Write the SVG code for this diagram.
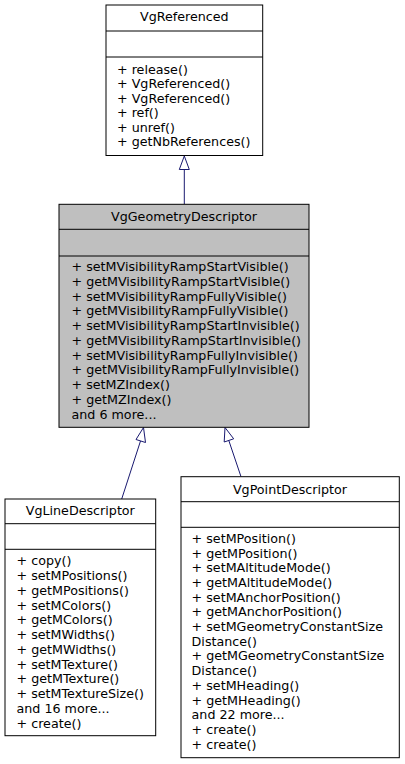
<svg xmlns="http://www.w3.org/2000/svg" width="405" height="764" viewBox="0 0 405 764">
<style>
.box{fill:#ffffff;stroke:#000000;stroke-width:1}
.gray{fill:#bfbfbf;stroke:#000000;stroke-width:1}
.sep{stroke:#000000;stroke-width:1}
text{font-family:"DejaVu Sans","Liberation Sans",sans-serif;font-size:12.7px;fill:#000000}
.t{text-anchor:middle}
.edge{stroke:#191970;stroke-width:1;fill:none}
.head{stroke:#191970;stroke-width:1;fill:#ffffff}
</style>
<rect width="405" height="764" fill="#ffffff"/>
<g id="connectors">
<line class="edge" x1="184.3" y1="169.5" x2="184.3" y2="204"/>
<polygon class="head" points="184.3,156 179.3,169.5 189.3,169.5"/>
<line class="edge" x1="140.5" y1="441" x2="121.7" y2="499"/>
<polygon class="head" points="143.5,427.5 136,439.5 145.5,442.5"/>
<line class="edge" x1="228.8" y1="440.5" x2="241" y2="476.7"/>
<polygon class="head" points="225,427.5 224.2,442 233.7,438.8"/>
</g>
<g id="VgReferenced">
<rect class="box" x="106" y="5" width="156.7" height="150.5"/>
<line class="sep" x1="106" y1="31" x2="262.7" y2="31"/>
<line class="sep" x1="106" y1="57" x2="262.7" y2="57"/>
<text class="t" x="184.3" y="21.2">VgReferenced</text>
<text x="117" y="73.5">+ release()</text>
<text x="117" y="88">+ VgReferenced()</text>
<text x="117" y="102.5">+ VgReferenced()</text>
<text x="117" y="117">+ ref()</text>
<text x="117" y="131.5">+ unref()</text>
<text x="117" y="146">+ getNbReferences()</text>
</g>
<g id="VgGeometryDescriptor">
<rect class="gray" x="59" y="204.3" width="250" height="223"/>
<line class="sep" x1="59" y1="229.3" x2="309" y2="229.3"/>
<line class="sep" x1="59" y1="256" x2="309" y2="256"/>
<text class="t" x="184" y="221">VgGeometryDescriptor</text>
<text x="71.5" y="271.2">+ setMVisibilityRampStartVisible()</text>
<text x="71.5" y="285.95">+ getMVisibilityRampStartVisible()</text>
<text x="71.5" y="300.7">+ setMVisibilityRampFullyVisible()</text>
<text x="71.5" y="315.45">+ getMVisibilityRampFullyVisible()</text>
<text x="71.5" y="330.2">+ setMVisibilityRampStartInvisible()</text>
<text x="71.5" y="344.95">+ getMVisibilityRampStartInvisible()</text>
<text x="71.5" y="359.7">+ setMVisibilityRampFullyInvisible()</text>
<text x="71.5" y="374.45">+ getMVisibilityRampFullyInvisible()</text>
<text x="71.5" y="389.2">+ setMZIndex()</text>
<text x="71.5" y="403.95">+ getMZIndex()</text>
<text x="71.5" y="418.7">and 6 more...</text>
</g>
<g id="VgLineDescriptor">
<rect class="box" x="5" y="499" width="150.7" height="236.7"/>
<line class="sep" x1="5" y1="523.7" x2="155.7" y2="523.7"/>
<line class="sep" x1="5" y1="549.3" x2="155.7" y2="549.3"/>
<text class="t" x="80.3" y="515">VgLineDescriptor</text>
<text x="16.5" y="565.2">+ copy()</text>
<text x="16.5" y="579.98">+ setMPositions()</text>
<text x="16.5" y="594.76">+ getMPositions()</text>
<text x="16.5" y="609.54">+ setMColors()</text>
<text x="16.5" y="624.32">+ getMColors()</text>
<text x="16.5" y="639.1">+ setMWidths()</text>
<text x="16.5" y="653.88">+ getMWidths()</text>
<text x="16.5" y="668.66">+ setMTexture()</text>
<text x="16.5" y="683.44">+ getMTexture()</text>
<text x="16.5" y="698.22">+ setMTextureSize()</text>
<text x="16.5" y="713">and 16 more...</text>
<text x="16.5" y="727.78">+ create()</text>
</g>
<g id="VgPointDescriptor">
<rect class="box" x="181" y="476.7" width="218.3" height="281"/>
<line class="sep" x1="181" y1="501.7" x2="399.3" y2="501.7"/>
<line class="sep" x1="181" y1="527.3" x2="399.3" y2="527.3"/>
<text class="t" x="290" y="493.8">VgPointDescriptor</text>
<text x="191.6" y="542.8">+ setMPosition()</text>
<text x="191.6" y="557.5">+ getMPosition()</text>
<text x="191.6" y="572.2">+ setMAltitudeMode()</text>
<text x="191.6" y="586.9">+ getMAltitudeMode()</text>
<text x="191.6" y="601.6">+ setMAnchorPosition()</text>
<text x="191.6" y="616.3">+ getMAnchorPosition()</text>
<text x="191.6" y="631">+ setMGeometryConstantSize</text>
<text x="191.6" y="645.7">Distance()</text>
<text x="191.6" y="660.4">+ getMGeometryConstantSize</text>
<text x="191.6" y="675.1">Distance()</text>
<text x="191.6" y="689.8">+ setMHeading()</text>
<text x="191.6" y="704.5">+ getMHeading()</text>
<text x="191.6" y="719.2">and 22 more...</text>
<text x="191.6" y="733.9">+ create()</text>
<text x="191.6" y="748.6">+ create()</text>
</g>
</svg>
